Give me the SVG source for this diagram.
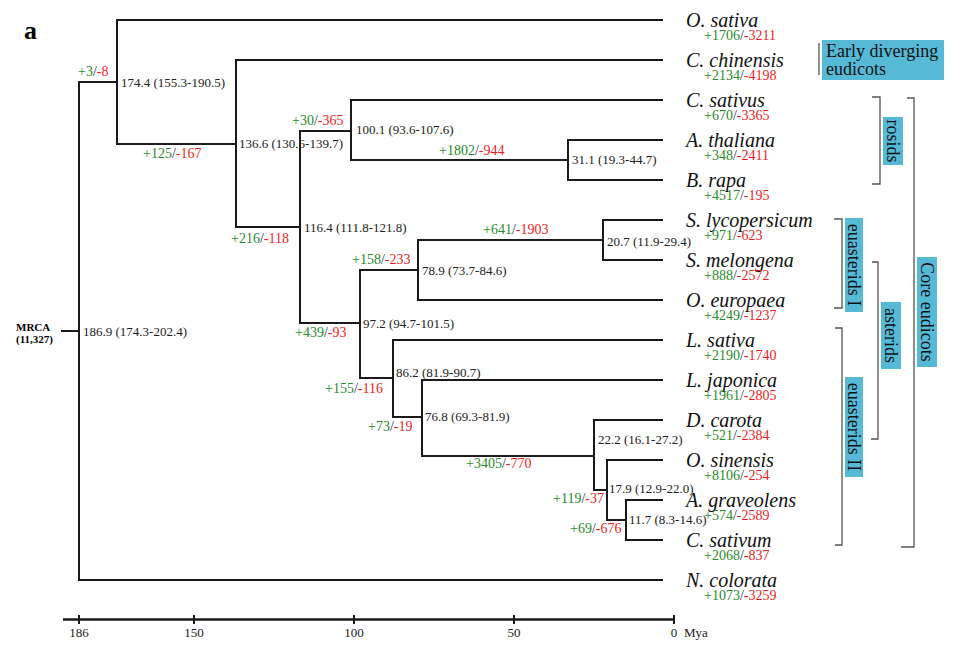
<svg xmlns="http://www.w3.org/2000/svg" width="958" height="647" viewBox="0 0 958 647">
<style>
.br{fill:none;stroke:#1a1a1a;stroke-width:2;stroke-linecap:square}
.ax{fill:none;stroke:#1a1a1a;stroke-width:2.5}
.tk{fill:none;stroke:#1a1a1a;stroke-width:2}
.bk{fill:none;stroke:#555;stroke-width:1.3}
.age{font-family:'Liberation Serif','Times New Roman',serif;font-size:13px;fill:#222}
.cnt{font-family:'Liberation Serif','Times New Roman',serif;font-size:14px;fill:#333}
.g{fill:#2a8a2a}
.r{fill:#ee1c1c}
.sp{font-family:'Liberation Serif','Times New Roman',serif;font-size:20px;font-style:italic;fill:#111}
.axl{font-family:'Liberation Serif','Times New Roman',serif;font-size:13px;fill:#222;text-anchor:middle}
.box{fill:#56b9d6}
.cl{font-family:'Liberation Serif','Times New Roman',serif;font-size:18px;fill:#111}
.bold{font-family:'Liberation Serif','Times New Roman',serif;font-weight:bold}
</style>
<rect width="958" height="647" fill="#fff"/>
<text class="bold" x="24" y="39" font-size="26">a</text>

<g id="connectors">
<path class="br" d="M62,331 H79 M79,82 V580 M79,82 H117 M79,580 H662
M117,20 V144 M117,20 H662 M117,144 H236
M236,60 V227 M236,60 H662 M236,227 H300
M300,131 V323 M300,131 H351
M351,100 V160 M351,100 H662 M351,160 H568
M568,140 V180 M568,140 H662 M568,180 H662
M300,323 H360 M360,270 V378 M360,270 H418
M418,240 V300 M418,240 H603 M603,220 V260 M603,220 H662 M603,260 H662 M418,300 H662
M360,378 H393 M393,340 V417 M393,340 H662 M393,417 H422
M422,380 V456 M422,380 H662 M422,456 H594
M594,420 V490 M594,420 H662 M594,490 H607
M607,460 V520 M607,460 H662 M607,520 H626
M626,500 V540 M626,500 H662 M626,540 H662"/>
</g>

<g id="node-mrca">
<text class="bold" x="16" y="331" font-size="11">MRCA</text>
<text class="bold" x="16" y="343" font-size="11">(11,327)</text>
<text class="age" x="83" y="336">186.9 (174.3-202.4)</text>
</g>
<g id="node-174"><text class="age" x="121" y="87">174.4 (155.3-190.5)</text><text class="cnt" x="78" y="76"><tspan class="g">+3</tspan>/<tspan class="r">-8</tspan></text></g>
<g id="node-136"><text class="age" x="239" y="148">136.6 (130.6-139.7)</text><text class="cnt" x="143" y="158"><tspan class="g">+125</tspan>/<tspan class="r">-167</tspan></text></g>
<g id="node-116"><text class="age" x="304" y="232">116.4 (111.8-121.8)</text><text class="cnt" x="231" y="243"><tspan class="g">+216</tspan>/<tspan class="r">-118</tspan></text></g>
<g id="node-100"><text class="age" x="356" y="134">100.1 (93.6-107.6)</text><text class="cnt" x="292" y="125"><tspan class="g">+30</tspan>/<tspan class="r">-365</tspan></text></g>
<g id="node-31"><text class="age" x="572" y="164">31.1 (19.3-44.7)</text><text class="cnt" x="439" y="155"><tspan class="g">+1802</tspan>/<tspan class="r">-944</tspan></text></g>
<g id="node-97"><text class="age" x="363" y="328">97.2 (94.7-101.5)</text><text class="cnt" x="295" y="337"><tspan class="g">+439</tspan>/<tspan class="r">-93</tspan></text></g>
<g id="node-78"><text class="age" x="422" y="275">78.9 (73.7-84.6)</text><text class="cnt" x="352" y="264"><tspan class="g">+158</tspan>/<tspan class="r">-233</tspan></text></g>
<g id="node-20"><text class="age" x="607" y="246">20.7 (11.9-29.4)</text><text class="cnt" x="483" y="234"><tspan class="g">+641</tspan>/<tspan class="r">-1903</tspan></text></g>
<g id="node-86"><text class="age" x="396" y="377">86.2 (81.9-90.7)</text><text class="cnt" x="325" y="393"><tspan class="g">+155</tspan>/<tspan class="r">-116</tspan></text></g>
<g id="node-76"><text class="age" x="425" y="421">76.8 (69.3-81.9)</text><text class="cnt" x="368" y="431"><tspan class="g">+73</tspan>/<tspan class="r">-19</tspan></text></g>
<g id="node-22"><text class="age" x="598" y="444">22.2 (16.1-27.2)</text><text class="cnt" x="466" y="468"><tspan class="g">+3405</tspan>/<tspan class="r">-770</tspan></text></g>
<g id="node-17"><text class="age" x="609" y="493">17.9 (12.9-22.0)</text><text class="cnt" x="553" y="503"><tspan class="g">+119</tspan>/<tspan class="r">-37</tspan></text></g>
<g id="node-11"><text class="age" x="629" y="524">11.7 (8.3-14.6)</text><text class="cnt" x="570" y="533"><tspan class="g">+69</tspan>/<tspan class="r">-676</tspan></text></g>

<g id="tip-osativa"><text class="sp" x="686" y="26.5">O. sativa</text><text class="cnt" x="704" y="39.5"><tspan class="g">+1706</tspan>/<tspan class="r">-3211</tspan></text></g>
<g id="tip-cchinensis"><text class="sp" x="686" y="66.5">C. chinensis</text><text class="cnt" x="704" y="79.5"><tspan class="g">+2134</tspan>/<tspan class="r">-4198</tspan></text></g>
<g id="tip-csativus"><text class="sp" x="686" y="106.5">C. sativus</text><text class="cnt" x="704" y="119.5"><tspan class="g">+670</tspan>/<tspan class="r">-3365</tspan></text></g>
<g id="tip-athaliana"><text class="sp" x="686" y="146.5">A. thaliana</text><text class="cnt" x="704" y="159.5"><tspan class="g">+348</tspan>/<tspan class="r">-2411</tspan></text></g>
<g id="tip-brapa"><text class="sp" x="686" y="186.5">B. rapa</text><text class="cnt" x="704" y="199.5"><tspan class="g">+4517</tspan>/<tspan class="r">-195</tspan></text></g>
<g id="tip-slycopersicum"><text class="sp" x="686" y="226.5">S. lycopersicum</text><text class="cnt" x="704" y="239.5"><tspan class="g">+971</tspan>/<tspan class="r">-623</tspan></text></g>
<g id="tip-smelongena"><text class="sp" x="686" y="266.5">S. melongena</text><text class="cnt" x="704" y="279.5"><tspan class="g">+888</tspan>/<tspan class="r">-2572</tspan></text></g>
<g id="tip-oeuropaea"><text class="sp" x="686" y="306.5">O. europaea</text><text class="cnt" x="704" y="319.5"><tspan class="g">+4249</tspan>/<tspan class="r">-1237</tspan></text></g>
<g id="tip-lsativa"><text class="sp" x="686" y="346.5">L. sativa</text><text class="cnt" x="704" y="359.5"><tspan class="g">+2190</tspan>/<tspan class="r">-1740</tspan></text></g>
<g id="tip-ljaponica"><text class="sp" x="686" y="386.5">L. japonica</text><text class="cnt" x="704" y="399.5"><tspan class="g">+1961</tspan>/<tspan class="r">-2805</tspan></text></g>
<g id="tip-dcarota"><text class="sp" x="686" y="426.5">D. carota</text><text class="cnt" x="704" y="439.5"><tspan class="g">+521</tspan>/<tspan class="r">-2384</tspan></text></g>
<g id="tip-osinensis"><text class="sp" x="686" y="466.5">O. sinensis</text><text class="cnt" x="704" y="479.5"><tspan class="g">+8106</tspan>/<tspan class="r">-254</tspan></text></g>
<g id="tip-agraveolens"><text class="sp" x="686" y="506.5">A. graveolens</text><text class="cnt" x="704" y="519.5"><tspan class="g">+574</tspan>/<tspan class="r">-2589</tspan></text></g>
<g id="tip-csativum"><text class="sp" x="686" y="546.5">C. sativum</text><text class="cnt" x="704" y="559.5"><tspan class="g">+2068</tspan>/<tspan class="r">-837</tspan></text></g>
<g id="tip-ncolorata"><text class="sp" x="686" y="586.5">N. colorata</text><text class="cnt" x="704" y="599.5"><tspan class="g">+1073</tspan>/<tspan class="r">-3259</tspan></text></g>

<g id="axis">
<path class="ax" d="M63,619.5 H674"/>
<path class="tk" d="M79,615 V624 M194,615 V624 M354,615 V624 M514,615 V624 M674,615 V624"/>
<text class="axl" x="79" y="637">186</text>
<text class="axl" x="194" y="637">150</text>
<text class="axl" x="354" y="637">100</text>
<text class="axl" x="514" y="637">50</text>
<text class="axl" x="674" y="637">0</text>
<text class="age" x="684" y="637">Mya</text>
</g>

<g id="clade-early">
<path class="bk" d="M819,43 V75"/>
<rect class="box" x="822" y="40" width="122" height="40"/>
<text class="cl" x="826" y="57" font-size="17">Early diverging</text>
<text class="cl" x="826" y="75" font-size="17">eudicots</text>
</g>
<g id="clade-rosids">
<path class="bk" d="M872,97 H880 V184 H872"/>
<rect class="box" x="883" y="117" width="20" height="48"/>
<text class="cl" transform="translate(887,141) rotate(90)" text-anchor="middle">rosids</text>
</g>
<g id="clade-euasterids1">
<path class="bk" d="M834,219 H842 V308 H834"/>
<rect class="box" x="845" y="218" width="18" height="94"/>
<text class="cl" transform="translate(848,265) rotate(90)" text-anchor="middle">euasterids I</text>
</g>
<g id="clade-asterids">
<path class="bk" d="M872,262 H878 V439 H871"/>
<rect class="box" x="881" y="302" width="20" height="67"/>
<text class="cl" transform="translate(885,335.5) rotate(90)" text-anchor="middle">asterids</text>
</g>
<g id="clade-euasterids2">
<path class="bk" d="M835,328 H842 V545 H835"/>
<rect class="box" x="845" y="377" width="18" height="100"/>
<text class="cl" transform="translate(848,427) rotate(90)" text-anchor="middle">euasterids II</text>
</g>
<g id="clade-core">
<path class="bk" d="M907,98 H914 V547 H901"/>
<rect class="box" x="917" y="257" width="20" height="110"/>
<text class="cl" transform="translate(921,312) rotate(90)" text-anchor="middle">Core eudicots</text>
</g>
</svg>
